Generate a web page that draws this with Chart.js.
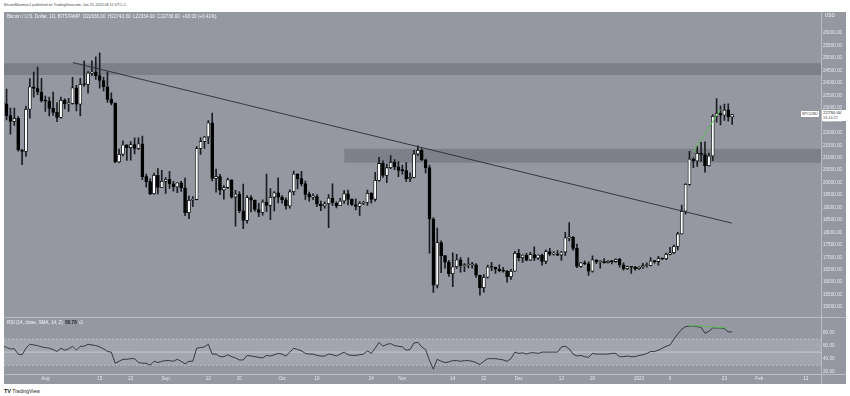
<!DOCTYPE html>
<html>
<head>
<meta charset="utf-8">
<script src="https://cdn.jsdelivr.net/npm/chart.js@4.4.0/dist/chart.umd.min.js"></script>
<style>
  body { margin:0; width:850px; height:396px; background:#fff; position:relative; overflow:hidden;
         font-family:"Liberation Sans", Arial, sans-serif; }
  .abs { position:absolute; }
  .sep { position:absolute; background:#b9bcc3; }
  .ttl { position:absolute; color:#f4f5f7; font-size:4.6px; white-space:nowrap; }
</style>
</head>
<body>
<div class="abs" style="left:4px;top:3px;font-size:3.6px;color:#444;white-space:nowrap">BitcoinMaximus1 published on TradingView.com, Jan 25, 2023 08:15 UTC+1</div>
<div class="abs" style="left:4px;top:12px;width:842px;height:372px;background:#9598a1"></div>
<canvas id="price" width="842" height="305" class="abs" style="left:4px;top:12px"></canvas>
<canvas id="rsi" width="842" height="67" class="abs" style="left:4px;top:317px"></canvas>
<div class="sep" style="left:4px;top:317px;width:842px;height:1px"></div>
<div class="sep" style="left:4px;top:374px;width:842px;height:1px"></div>
<div class="sep" style="left:821px;top:12px;width:1px;height:372px"></div>
<div class="ttl" style="left:7px;top:14px">Bitcoin / U.S. Dollar, 1D, BITSTAMP&nbsp; O22636.00&nbsp; H22743.00&nbsp; L22334.00&nbsp; C22730.00&nbsp; +93.00 (+0.41%)</div>
<div class="ttl" style="left:825px;top:13px">USD</div>
<div class="ttl" style="left:7px;top:320px">RSI (14, close, SMA, 14, 2)&nbsp; <b style="color:#1e222d">80.78</b>&nbsp; ∅</div>
<div id="tagName" class="abs" style="left:801px;top:109px;width:18px;height:6px;background:#fff;color:#333;font-size:3.8px;line-height:6px;text-align:center">BTCUSD</div>
<div id="tagBox" class="abs" style="left:822px;top:108px;width:24px;height:11px;background:#fff;color:#222;font-size:4.4px;line-height:5px;padding-left:1px">22730.00<br><span style="font-size:3.8px;color:#555">16:44:22</span></div>
<div class="abs" style="left:4px;top:388px;font-size:5px;color:#222;white-space:nowrap"><b style="font-size:5.5px">TV</b> TradingView</div>
<script>
// day 0 = 2022-07-21, one candle per day up to 2023-01-25
const opens = [
  23220,23160,22690,22460,22580,21310,21250,22950,23850,23780,23640,
  23290,23270,22980,22820,22620,23310,23160,23180,23810,23150,23950,23940,24400,24440,24300,24100,23850,23340,23190,20830,21140,21520,21400,21530,21370,21560,20240,20040,19550,20290,19810,
  20050,20130,19950,19830,19990,19790,18790,19290,19320,21370,21650,21830,22400,20170,20240,19700,19800,20110,19420,19540,18870,18480,19400,19290,18920,18800,19220,19080,19410,19590,
  19420,19310,19060,19630,20340,20160,19960,19530,19420,19440,19130,19060,19150,19380,19180,19070,19260,19550,19330,19120,19040,19170,19200,19570,19330,20090,20770,20290,20600,20820,20630,
  20490,20480,20160,20210,21150,21300,20920,20600,18540,15880,17590,17070,16800,16340,16620,16900,16660,16690,16700,16700,16280,15780,16200,16610,16600,16520,16460,16440,16220,16440,
  17160,16980,17090,16890,17110,16970,17090,16840,17230,17130,17130,17090,17210,17780,17800,17360,16630,16780,16740,16440,16900,16820,16830,16780,16840,16830,16920,16700,16540,16630,16600,
  16540,16610,16670,16670,16850,16830,16950,16940,17120,17180,17440,17940,18850,19930,20950,20870,21180,21130,20680,21070,22660,22780,22710,22920,22636
];
const highs = [
  23430,23760,22990,22990,22650,21340,23070,24180,24440,24640,24190,
  23480,23440,23640,23210,23440,23360,23380,24230,23910,24190,24880,24460,24890,25050,25210,24240,24440,23610,23200,21350,21680,21520,21650,21800,21800,21870,20340,20150,20380,20560,20490,
  20200,20450,20050,20000,20050,20180,19460,19440,21450,21800,21860,22490,22790,20540,20330,19880,20180,20110,19690,19640,19940,19480,19480,19310,19170,19310,20340,19760,19640,20190,
  19480,19390,19710,20460,20360,20450,20060,19620,19550,19520,19260,19230,19520,19950,19230,19370,19680,19700,19350,19350,19240,19250,19700,19600,20410,21020,20870,20740,21090,20930,20840,
  20700,20800,20390,21300,21480,21370,20950,20700,18600,18170,17660,17080,16880,17180,17120,16990,16750,16980,16800,16750,16290,16310,16690,16800,16610,16700,16600,16480,16520,17240,
  17320,17100,17160,17200,17420,17100,17130,17300,17360,17230,17270,17240,18000,18390,17840,17530,16800,16860,16820,17060,16900,16860,16950,16870,16860,16940,16960,16780,16650,16640,16640,
  16630,16760,16780,16990,16880,17040,16950,17170,17400,17500,18000,19100,19960,21260,21000,21460,21620,21640,21190,22730,23370,23080,23150,23160,22743
];
const lows = [
  22340,22520,21950,22300,21260,20720,21050,22590,23430,23530,23230,
  22860,22680,22700,22450,22590,22960,22860,23150,22880,22680,23860,23590,24300,24140,23790,23680,23220,23120,20800,20800,21070,20890,20900,21150,21320,20120,19820,19520,19540,19550,19810,
  19570,19770,19660,19600,19650,18670,18550,19030,19300,21130,21370,21560,20070,19620,19520,19340,19760,19380,18250,18790,18150,18370,18820,18850,18630,18690,18830,18510,18860,19180,
  19170,18930,18970,19510,19750,19870,19330,19250,19320,19030,18870,18970,18190,19080,18980,19070,19160,19100,19070,18900,18680,19110,19080,19170,19250,20060,20210,20000,20560,20520,20240,
  20340,20050,20040,20190,21080,20880,20390,17170,15590,15770,16380,16560,16230,15820,16550,16400,16420,16570,16560,16190,15480,15600,16160,16460,16350,16410,16400,16000,16110,16430,
  16860,16790,16860,16880,16870,16910,16680,16740,17070,17090,17070,16880,17080,17660,17280,16580,16590,16700,16270,16400,16740,16560,16760,16760,16730,16790,16600,16480,16500,16350,16480,
  16500,16550,16600,16650,16760,16680,16910,16910,17100,17150,17300,17930,18730,19900,20600,20650,20850,20420,20660,20880,22430,22320,22500,22470,22334
];
const closes = [
  23160,22690,22460,22580,21310,21250,22950,23850,23780,23640,23290,
  23270,22980,22820,22620,23310,23160,23180,23810,23150,23950,23940,24400,24440,24300,24100,23850,23340,23190,20830,21140,21520,21400,21530,21370,21560,20240,20040,19550,20290,19810,20050,
  20130,19950,19830,19990,19790,18790,19290,19320,21370,21650,21830,22400,20170,20240,19700,19800,20110,19420,19540,18870,18480,19400,19290,18920,18800,19220,19080,19410,19590,19420,
  19310,19060,19630,20340,20160,19960,19530,19420,19440,19130,19060,19150,19380,19180,19070,19260,19550,19330,19120,19040,19170,19200,19570,19330,20090,20770,20290,20600,20820,20630,20490,
  20480,20160,20210,21150,21300,20920,20600,18540,15880,17590,17070,16800,16340,16620,16900,16660,16690,16700,16700,16280,15780,16200,16610,16600,16520,16460,16440,16220,16440,17160,
  16980,17090,16890,17110,16970,17090,16840,17230,17130,17130,17090,17210,17780,17800,17360,16630,16780,16740,16440,16900,16820,16830,16780,16840,16830,16920,16700,16540,16630,16600,16540,
  16610,16670,16670,16850,16830,16950,16940,17120,17180,17440,17940,18850,19930,20950,20870,21180,21130,20680,21070,22660,22780,22710,22920,22637,22730
];
const rsi = [
  60,57,55,55,47,46,56,62,61,60,58,
  57,56,54,51,56,53,55,59,53,59,59,62,61,60,58,55,51,50,33,36,39,39,40,40,34,33,33,30,36,34,
  36,37,37,36,39,36,32,36,36,56,57,58,62,47,47,43,43,46,43,41,38,38,45,44,43,42,41,45,44,46,
  48,47,44,50,56,54,52,48,47,47,45,44,44,47,46,44,47,50,46,45,45,46,47,52,48,56,65,59,62,63,60,
  59,58,53,54,64,65,58,54,37,24,39,36,34,35,37,37,36,37,37,36,34,31,36,40,40,40,39,38,36,40,
  50,48,49,47,49,49,48,50,50,50,50,50,58,59,55,47,44,45,43,42,48,47,47,47,47,48,48,43,43,44,43,
  43,45,46,48,51,51,53,56,59,61,70,78,85,89,90,90,89,88,79,82,87,87,87,86,81,81
];

// time axis: day index -> label
const tickDays   = [11, 25, 33, 42, 53, 61, 72, 81, 95, 103, 116, 124, 133, 144, 152, 164, 172, 186, 195, 207];
const tickLabels = ['Aug','15','23','Sep','12','20','Oct','10','24','Nov','14','22','Dec','12','20','2023','9','23','Feb','13'];
const priceTicks = [15000,15500,16000,16500,17000,17500,18000,18500,19000,19500,20000,20500,21000,21500,22000,22500,23000,23500,24000,24500,25000,25500,26000];
const rsiTicks = [20, 40, 60, 80];

// drawn zones, trend line, divergence lines
const zoneStart = [0, 88];
const zoneHigh  = [24790, 21360];
const zoneLow   = [24320, 20800];
const trendDays = [18.1, 187.9];
const trendPrices = [24820, 18374];
const greenDays = [178, 185];
const greenPrices = [21230, 22940];
const rsiGreenDays = [176.7, 186.6];
const rsiGreenValues = [91, 87];

const xMin = 0.34, xMax = 210.9;
const textCol = '#e6e8ec';
const tickFont = { family: 'Liberation Sans', size: 4.6 };

const pts = (xs, ys) => xs.map((x, k) => ({ x: x, y: ys[k] }));
const days = closes.map((c, i) => i);

const zoneSets = zoneStart.map((s, k) => ({
  type: 'line', order: 10,
  data: [{ x: s, y: zoneLow[k] }, { x: xMax, y: zoneLow[k] }],
  borderWidth: 0, pointRadius: 0,
  fill: { value: zoneHigh[k] }, backgroundColor: '#7d8089'
}));

const tagPlugin = {
  id: 'tag',
  afterDraw(chart) {
    const y = chart.scales.y.getPixelForValue(closes[closes.length - 1]);
    document.getElementById('tagBox').style.top = (12 + y - 5) + 'px';
    document.getElementById('tagName').style.top = (12 + y - 3.5) + 'px';
  }
};

new Chart(document.getElementById('price'), {
  type: 'bar',
  data: {
    datasets: [
      ...zoneSets,
      {
        type: 'bar', order: 4, grouped: false, clip: 0,
        data: days.map(i => ({ x: i, y: [lows[i], highs[i]] })),
        backgroundColor: '#1c1d22', barThickness: 1
      },
      {
        type: 'bar', order: 3, grouped: false, clip: 0,
        data: days.map(i => ({ x: i, y: [opens[i], closes[i]] })),
        backgroundColor: days.map(i => closes[i] >= opens[i] ? '#ffffff' : '#000000'),
        borderColor: '#000000', borderWidth: 0.8, borderSkipped: false,
        barThickness: 3, minBarLength: 1
      },
      {
        type: 'line', order: 1, data: pts(trendDays, trendPrices),
        borderColor: '#2b2d33', borderWidth: 0.9, pointRadius: 0, fill: false
      },
      {
        type: 'line', order: 0, data: pts(greenDays, greenPrices),
        borderColor: '#56c24f', borderWidth: 0.9, pointRadius: 0, fill: false
      }
    ]
  },
  options: {
    responsive: false, animation: false, events: [],
    layout: { padding: 0 },
    plugins: { legend: { display: false }, tooltip: { enabled: false } },
    scales: {
      x: { type: 'linear', min: xMin, max: xMax, display: false, offset: false },
      y: {
        position: 'right', min: 14794, max: 26661,
        afterFit(s) { s.width = 25; },
        afterBuildTicks(s) { s.ticks = priceTicks.map(v => ({ value: v })); },
        ticks: { callback: v => v.toFixed(2), color: textCol, font: tickFont, padding: 2 },
        grid: { display: false, drawTicks: false },
        border: { display: false }
      }
    }
  },
  plugins: [tagPlugin]
});

new Chart(document.getElementById('rsi'), {
  type: 'line',
  data: {
    datasets: [
      {
        order: 10, data: [{ x: xMin, y: 30 }, { x: xMax, y: 30 }],
        borderWidth: 0, pointRadius: 0, fill: { value: 70 }, backgroundColor: '#a3a6ae'
      },
      {
        order: 9, data: [{ x: xMin, y: 70 }, { x: xMax, y: 70 }],
        borderColor: '#c2c4ca', borderWidth: 0.8, borderDash: [2, 2], pointRadius: 0
      },
      {
        order: 9, data: [{ x: xMin, y: 30 }, { x: xMax, y: 30 }],
        borderColor: '#c2c4ca', borderWidth: 0.8, borderDash: [2, 2], pointRadius: 0
      },
      {
        order: 9, data: [{ x: xMin, y: 50 }, { x: xMax, y: 50 }],
        borderColor: '#cfd1d6', borderWidth: 0.8, pointRadius: 0
      },
      {
        order: 2, data: days.map(i => ({ x: i, y: rsi[i] })),
        borderColor: '#2a2d35', borderWidth: 0.9, pointRadius: 0, tension: 0, clip: 0
      },
      {
        order: 1, data: pts(rsiGreenDays, rsiGreenValues),
        borderColor: '#56c24f', borderWidth: 0.9, pointRadius: 0
      }
    ]
  },
  options: {
    responsive: false, animation: false, events: [],
    layout: { padding: { top: 1 } },
    plugins: { legend: { display: false }, tooltip: { enabled: false } },
    scales: {
      x: {
        type: 'linear', min: xMin, max: xMax, offset: false,
        afterFit(s) { s.height = 10; },
        afterBuildTicks(s) { s.ticks = tickDays.map(v => ({ value: v })); },
        ticks: {
          callback: v => tickLabels[tickDays.indexOf(v)],
          color: textCol, font: tickFont, padding: 2, maxRotation: 0, autoSkip: false
        },
        grid: { display: false, drawTicks: false },
        border: { display: false }
      },
      y: {
        position: 'right', min: 16.5, max: 96.5,
        afterFit(s) { s.width = 25; },
        afterBuildTicks(s) { s.ticks = rsiTicks.map(v => ({ value: v })); },
        ticks: { callback: v => v.toFixed(2), color: textCol, font: tickFont, padding: 2 },
        grid: { display: false, drawTicks: false },
        border: { display: false }
      }
    }
  }
});
</script>
</body>
</html>
